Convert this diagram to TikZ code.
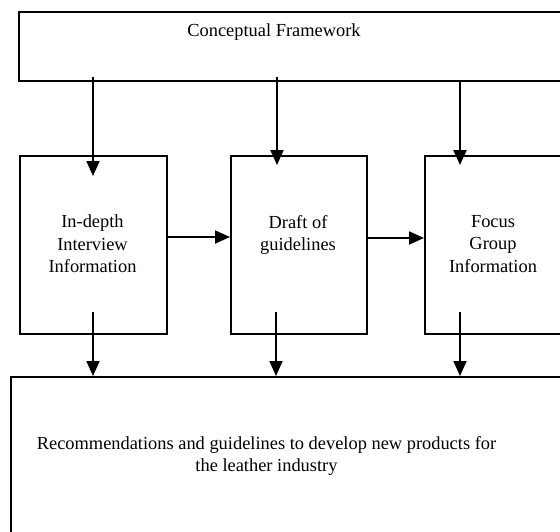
\documentclass[tikz,border=0pt]{standalone}
\usepackage{fontspec}
\setmainfont{Liberation Serif}
\usetikzlibrary{arrows.meta}
\tikzset{
  box/.style={draw=black, line width=1.8pt, rectangle, inner sep=0pt, anchor=north west},
  lbl/.style={inner sep=0pt, anchor=north, align=center, font=\fontsize{18.4pt}{22.5pt}\selectfont},
  arr/.style={line width=1.8pt, -{Triangle[length=15pt,width=13pt]}},
}
\begin{document}
\begin{tikzpicture}[x=1pt,y=-1pt]
\useasboundingbox (0,0) rectangle (560,531);
\clip (0,0) rectangle (560,531);
\fill[white] (0,0) rectangle (560,531);
% boxes
\node[box, minimum width=560pt, minimum height=69pt] (cf) at (18,11) {};
\node[box, minimum width=147pt, minimum height=178pt] (idi) at (19,155) {};
\node[box, minimum width=136pt, minimum height=178pt] (dg) at (230,155) {};
\node[box, minimum width=160pt, minimum height=178pt] (fg) at (424,155) {};
\node[box, minimum width=549.5pt, minimum height=200pt] (rec) at (10,376) {};
% texts
\node[lbl] (cft) at (274,24) {Conceptual Framework};
\node[lbl] (idit) at (92.5,215) {In-depth\\Interview\\Information};
\node[lbl] (dgt) at (298,215) {Draft of\\guidelines};
\node[lbl] (fgt) at (493,215) {Focus\\Group\\Information};
\node[lbl] (rect) at (266.5,436) {Recommendations and guidelines to develop new products for\\the leather industry};
% connector end points
\coordinate (s1) at (93,77);   \coordinate (e1) at (93,176);
\coordinate (s2) at (277,77);  \coordinate (e2) at (277,165);
\coordinate (s3) at (460,80);  \coordinate (e3) at (460,165);
\coordinate (b1) at (93,312);  \coordinate (f1) at (93,376);
\coordinate (b2) at (276,312); \coordinate (f2) at (276,376);
\coordinate (b3) at (460,312); \coordinate (f3) at (460,376);
% connectors
\draw[arr] (s1) -- (e1);
\draw[arr] (s2) -- (e2);
\draw[arr] (s3) -- (e3);
\draw[arr] (idi.east |- 0,237) -- (dg.west |- 0,237);
\draw[arr] (dg.east |- 0,238) -- (fg.west |- 0,238);
\draw[arr] (b1) -- (f1);
\draw[arr] (b2) -- (f2);
\draw[arr] (b3) -- (f3);
\end{tikzpicture}
\end{document}
